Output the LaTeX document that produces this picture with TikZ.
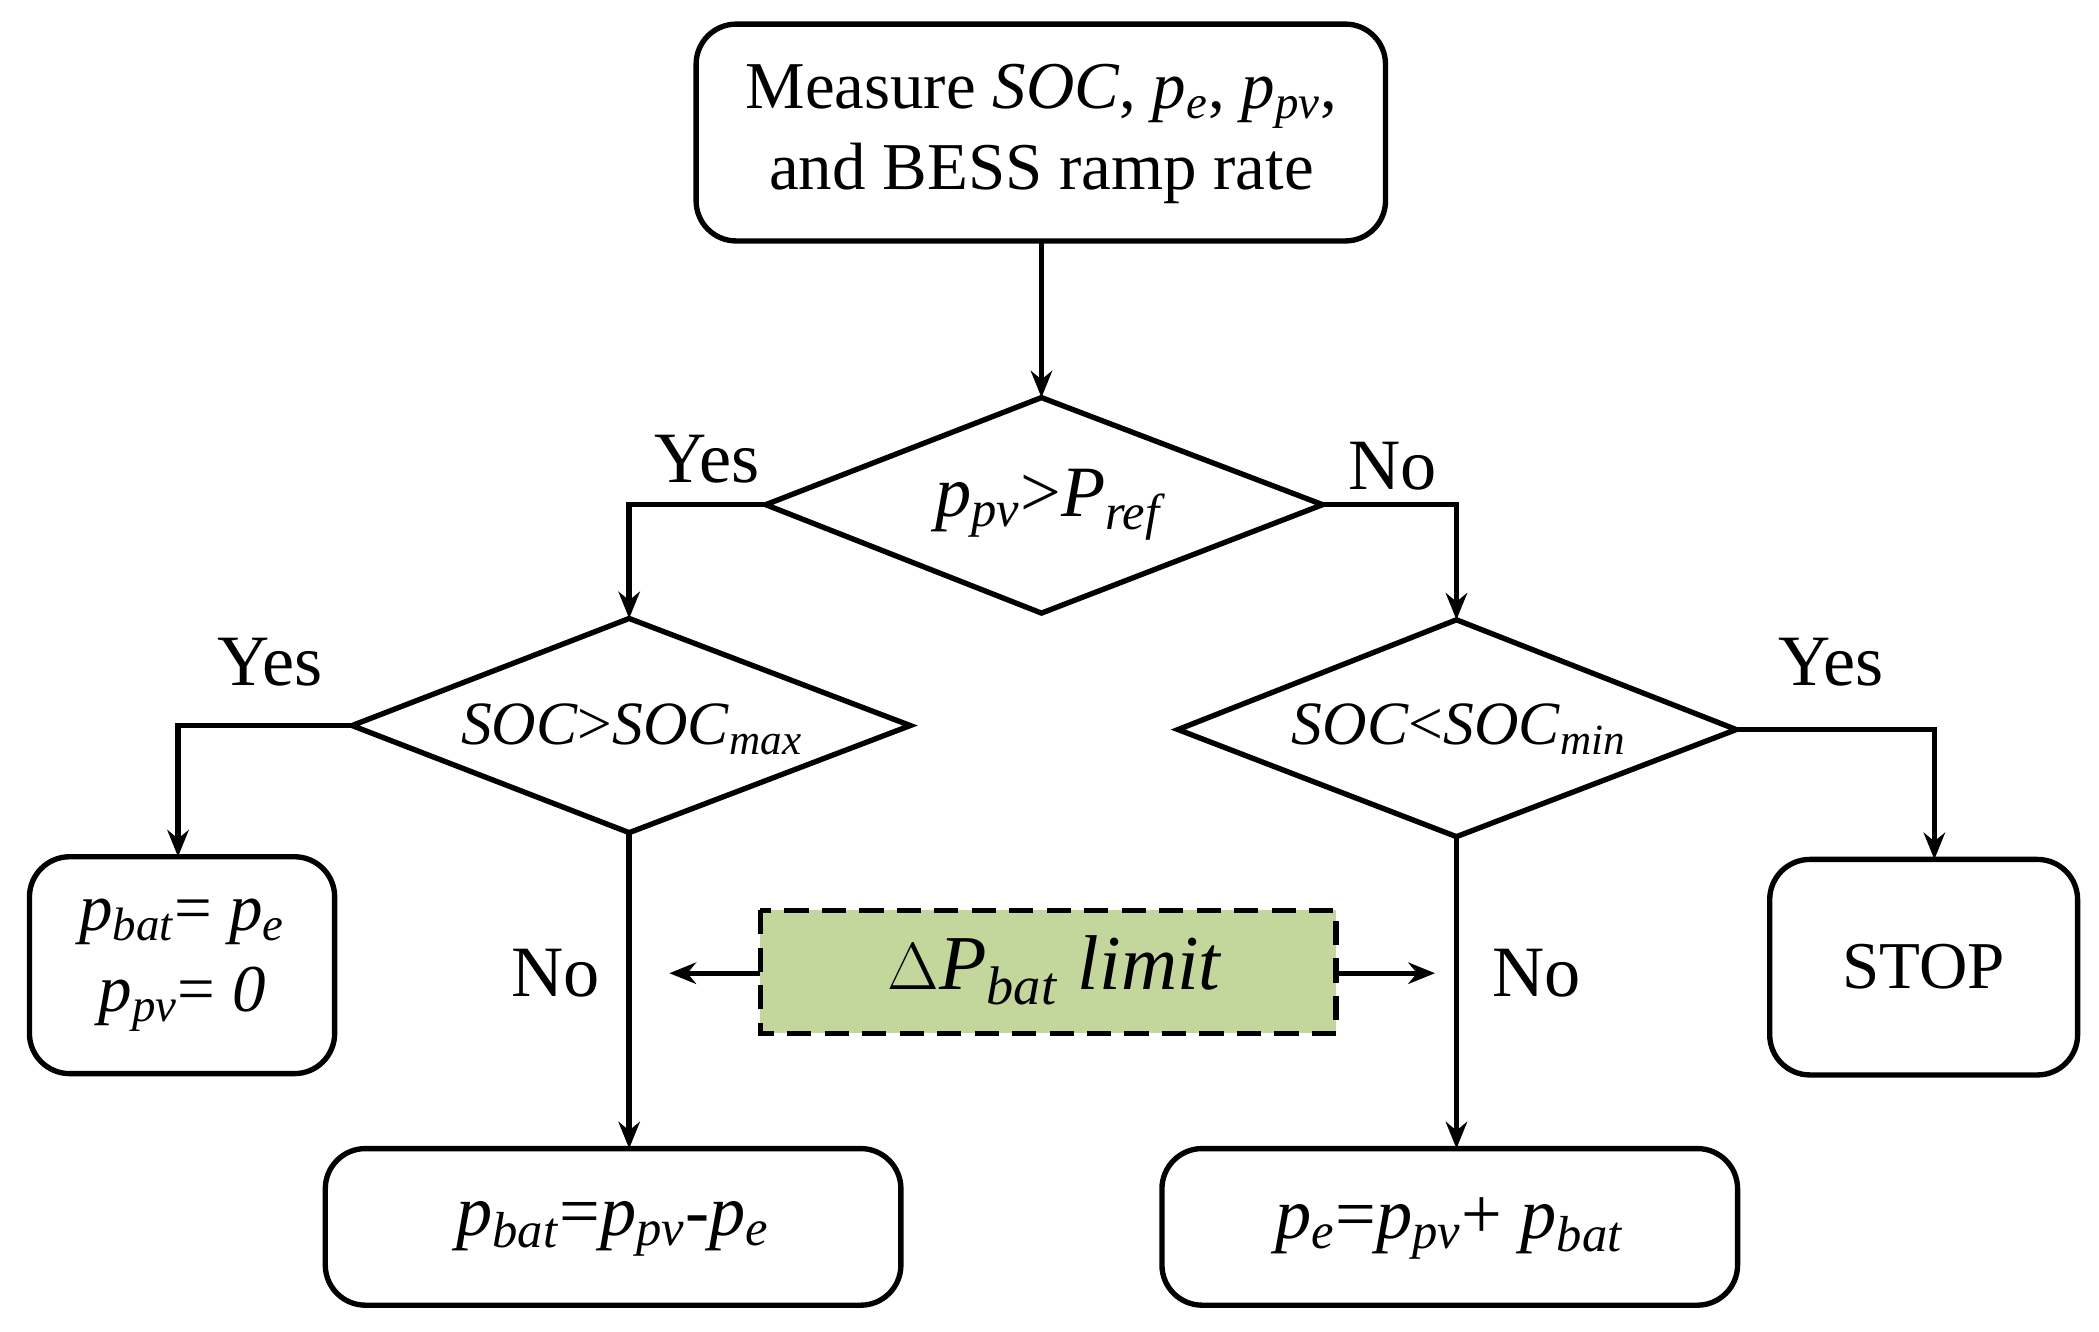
\documentclass[tikz,border=0pt]{standalone}
\usepackage{fontspec}
\setmainfont{Liberation Serif}
\usetikzlibrary{arrows.meta}
\newcommand{\vv}[2]{\textit{#1}\textsubscript{\textit{#2}}}
\begin{document}
\begin{tikzpicture}[x=0.5pt,y=-0.5pt,
  line width=2pt,
  box/.style={draw,rounded corners=15pt,line width=2pt},
  dia/.style={draw,line width=2pt},
  arr/.style={-{Stealth[length=10pt,width=8pt]},line width=2pt},
  lab/.style={font=\fontsize{25}{30}\selectfont}]
\useasboundingbox (0,0) rectangle (1568,995);
% top box
\draw[box] (520,18) rectangle (1035,180);
\node[lab,align=center] (top) at (778,100) {Measure \textit{SOC}, \vv{p}{e}, \vv{p}{pv},\\and BESS ramp rate};
\coordinate (topb) at (778,180);
% diamonds
\draw[dia] (778,297) -- (988,377) -- (778,458) -- (572,377) -- cycle;
\node[font=\fontsize{27}{30}\selectfont] (d1) at (785,377) {\vv{p}{pv}>\vv{P}{ref}};
\coordinate (d1t) at (778,297); \coordinate (d1l) at (572,377); \coordinate (d1r) at (988,377);
\draw[dia] (470,462) -- (680,542) -- (470,622) -- (263,542) -- cycle;
\node[font=\fontsize{23}{30}\selectfont] (d2) at (472,545) {\textit{SOC}>\vv{SOC}{max}};
\coordinate (d2t) at (470,462); \coordinate (d2l) at (263,542); \coordinate (d2b) at (470,622);
\draw[dia] (1088,463) -- (1297,545) -- (1088,625) -- (880,545) -- cycle;
\node[font=\fontsize{23}{30}\selectfont] (d3) at (1090,545) {\textit{SOC}<\vv{SOC}{min}};
\coordinate (d3t) at (1088,463); \coordinate (d3r) at (1297,545); \coordinate (d3b) at (1088,625);
% boxes
\draw[box] (22,640) rectangle (250,802);
\node[lab,align=center] (b1) at (136,721) {\vv{p}{bat}= \vv{p}{e}\\\vv{p}{pv}= \textit{0}};
\coordinate (b1t) at (133,640);
\draw[box] (1322,642) rectangle (1552,803);
\node[lab] (stop) at (1437,722) {STOP};
\coordinate (b4t) at (1445,642);
\draw[box] (243,858) rectangle (673,975);
\node[font=\fontsize{27}{30}\selectfont] (b2) at (458,918) {\vv{p}{bat}=\vv{p}{pv}-\vv{p}{e}};
\coordinate (b2t) at (470,858);
\draw[box] (868,858) rectangle (1298,975);
\node[font=\fontsize{27}{30}\selectfont] (b3) at (1083,918) {\vv{p}{e}=\vv{p}{pv}+ \vv{p}{bat}};
\coordinate (b3t) at (1088,858);
% limit box
\draw[dashed,line width=2pt,fill={rgb,255:red,195;green,214;blue,155},dash pattern=on 9pt off 5pt] (568,680) rectangle (998,772);
\node[font=\fontsize{29}{30}\selectfont] (lim) at (788,725) {$\Delta$\vv{P}{bat} \textit{limit}};
\coordinate (liml) at (568,727); \coordinate (limr) at (998,727);
\coordinate (la) at (500,727); \coordinate (ra) at (1072,727);
% connectors
\draw[arr] (topb) -- (d1t);
\draw[arr] (d1l) -| (d2t);
\draw[arr] (d1r) -| (d3t);
\draw[arr] (d2l) -| (b1t);
\draw[arr] (d3r) -| (b4t);
\draw[arr] (d2b) -- (b2t);
\draw[arr] (d3b) -- (b3t);
\draw[arr] (liml) -- (la);
\draw[arr] (limr) -- (ra);
% labels
\node[lab,font=\fontsize{27}{30}\selectfont] (y1) at (528,343) {Yes};
\node[lab,font=\fontsize{27}{30}\selectfont] (n1) at (1040,348) {No};
\node[lab,font=\fontsize{27}{30}\selectfont] (y2) at (202,495) {Yes};
\node[lab,font=\fontsize{27}{30}\selectfont] (y3) at (1368,495) {Yes};
\node[lab,font=\fontsize{27}{30}\selectfont] (n2) at (415,727) {No};
\node[lab,font=\fontsize{27}{30}\selectfont] (n3) at (1148,727) {No};
\end{tikzpicture}
\end{document}
